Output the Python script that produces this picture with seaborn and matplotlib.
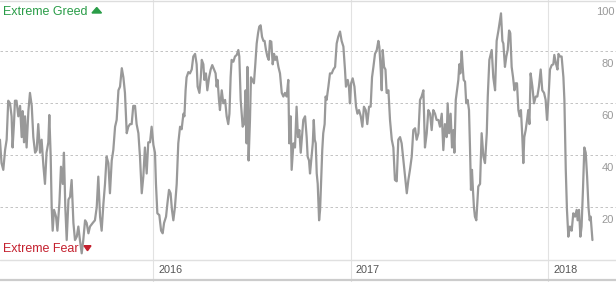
import matplotlib
matplotlib.use("Agg")
import matplotlib.pyplot as plt
import matplotlib.patches as mpatches
import matplotlib.transforms as mtransforms
import seaborn as sns
import pandas as pd

# Fear & Greed index (x = decimal year)
years = [
    2015.225, 2015.233, 2015.242, 2015.251, 2015.259, 2015.267, 2015.276, 2015.284, 2015.289, 2015.296,
    2015.301, 2015.309, 2015.318, 2015.327, 2015.335, 2015.340, 2015.347, 2015.352, 2015.360, 2015.369,
    2015.377, 2015.386, 2015.394, 2015.403, 2015.411, 2015.419, 2015.428, 2015.436, 2015.445, 2015.453,
    2015.461, 2015.470, 2015.475, 2015.482, 2015.487, 2015.492, 2015.499, 2015.509, 2015.516, 2015.526,
    2015.534, 2015.543, 2015.549, 2015.556, 2015.563, 2015.572, 2015.580, 2015.588, 2015.597, 2015.605,
    2015.614, 2015.622, 2015.630, 2015.639, 2015.647, 2015.656, 2015.664, 2015.673, 2015.681, 2015.695,
    2015.706, 2015.715, 2015.723, 2015.732, 2015.740, 2015.749, 2015.757, 2015.765, 2015.774, 2015.782,
    2015.791, 2015.799, 2015.808, 2015.816, 2015.825, 2015.833, 2015.842, 2015.850, 2015.858, 2015.867,
    2015.875, 2015.884, 2015.892, 2015.900, 2015.909, 2015.917, 2015.926, 2015.934, 2015.943, 2015.951,
    2015.959, 2015.968, 2015.976, 2015.985, 2015.993, 2016.002, 2016.010, 2016.015, 2016.022, 2016.032,
    2016.041, 2016.049, 2016.056, 2016.066, 2016.073, 2016.081, 2016.089, 2016.096, 2016.103, 2016.111,
    2016.120, 2016.128, 2016.137, 2016.145, 2016.154, 2016.159, 2016.165, 2016.170, 2016.179, 2016.187,
    2016.196, 2016.204, 2016.213, 2016.221, 2016.226, 2016.235, 2016.242, 2016.247, 2016.255, 2016.260,
    2016.268, 2016.275, 2016.284, 2016.292, 2016.300, 2016.309, 2016.317, 2016.322, 2016.327, 2016.334,
    2016.339, 2016.348, 2016.356, 2016.365, 2016.373, 2016.381, 2016.387, 2016.393, 2016.398, 2016.407,
    2016.415, 2016.424, 2016.432, 2016.437, 2016.444, 2016.454, 2016.461, 2016.469, 2016.474, 2016.478,
    2016.484, 2016.491, 2016.496, 2016.503, 2016.511, 2016.518, 2016.525, 2016.532, 2016.538, 2016.545,
    2016.552, 2016.559, 2016.565, 2016.572, 2016.579, 2016.586, 2016.592, 2016.599, 2016.606, 2016.613,
    2016.619, 2016.626, 2016.635, 2016.643, 2016.652, 2016.660, 2016.668, 2016.677, 2016.685, 2016.690,
    2016.697, 2016.702, 2016.711, 2016.719, 2016.727, 2016.734, 2016.741, 2016.748, 2016.754, 2016.761,
    2016.770, 2016.778, 2016.783, 2016.790, 2016.795, 2016.803, 2016.809, 2016.814, 2016.819, 2016.824,
    2016.829, 2016.834, 2016.841, 2016.846, 2016.851, 2016.857, 2016.862, 2016.869, 2016.874, 2016.879,
    2016.888, 2016.896, 2016.905, 2016.913, 2016.922, 2016.930, 2016.938, 2016.947, 2016.955, 2016.964,
    2016.972, 2016.977, 2016.986, 2016.992, 2016.997, 2017.003, 2017.011, 2017.020, 2017.028, 2017.035,
    2017.043, 2017.052, 2017.060, 2017.068, 2017.077, 2017.085, 2017.094, 2017.102, 2017.109, 2017.116,
    2017.124, 2017.133, 2017.141, 2017.146, 2017.153, 2017.158, 2017.163, 2017.170, 2017.177, 2017.183,
    2017.192, 2017.200, 2017.209, 2017.217, 2017.225, 2017.234, 2017.242, 2017.251, 2017.259, 2017.268,
    2017.276, 2017.285, 2017.293, 2017.301, 2017.310, 2017.318, 2017.327, 2017.335, 2017.344, 2017.352,
    2017.360, 2017.369, 2017.377, 2017.386, 2017.394, 2017.403, 2017.411, 2017.419, 2017.428, 2017.436,
    2017.445, 2017.453, 2017.462, 2017.470, 2017.478, 2017.487, 2017.492, 2017.499, 2017.507, 2017.514,
    2017.521, 2017.526, 2017.533, 2017.539, 2017.546, 2017.551, 2017.556, 2017.563, 2017.568, 2017.573,
    2017.580, 2017.586, 2017.593, 2017.600, 2017.605, 2017.610, 2017.615, 2017.620, 2017.625, 2017.630,
    2017.637, 2017.642, 2017.647, 2017.656, 2017.664, 2017.673, 2017.681, 2017.690, 2017.695, 2017.703,
    2017.710, 2017.715, 2017.723, 2017.732, 2017.740, 2017.749, 2017.757, 2017.762, 2017.769, 2017.774,
    2017.782, 2017.789, 2017.796, 2017.803, 2017.809, 2017.816, 2017.823, 2017.830, 2017.836, 2017.843,
    2017.850, 2017.856, 2017.863, 2017.870, 2017.875, 2017.880, 2017.887, 2017.894, 2017.900, 2017.906,
    2017.912, 2017.921, 2017.929, 2017.938, 2017.946, 2017.954, 2017.963, 2017.971, 2017.980, 2017.988,
    2017.995, 2018.002, 2018.010, 2018.019, 2018.027, 2018.032, 2018.041, 2018.048, 2018.053, 2018.061,
    2018.069, 2018.078, 2018.083, 2018.090, 2018.096, 2018.103, 2018.111, 2018.120, 2018.128, 2018.137,
    2018.145, 2018.150, 2018.157, 2018.164, 2018.170, 2018.177, 2018.184, 2018.191, 2018.198, 2018.205,
    2018.211, 2018.216, 2018.225,
]
index_values = [
    46, 37, 34.4, 42, 46, 61, 60, 55, 43, 52,
    61, 61, 55, 59, 47, 57, 45, 55, 43, 57,
    64, 59, 47, 41, 42, 52, 41, 46, 36, 29,
    41, 45, 55.5, 39.5, 20, 11, 19, 16.4, 11, 21.5,
    35.6, 29, 41, 20, 7.4, 23, 24, 30.5, 14, 7.4,
    8.7, 12.6, 7.4, 2.3, 7.4, 15, 14, 10, 12.6, 14,
    15, 20, 31.8, 16.4, 11, 21.5, 29, 39.5, 37, 25.4,
    38, 42, 51, 53.6, 65, 66.4, 73.5, 70, 64, 48.5,
    51, 52, 52, 59, 59, 52, 48.5, 39.5, 25.4, 31.8,
    43, 33, 45, 45, 51, 44, 41, 29, 17.7, 17,
    11, 10, 14, 16.4, 21.5, 26.7, 25.4, 19, 15, 20,
    29, 44.6, 51, 50, 56, 55, 65, 70, 72, 71.5,
    73, 78, 79, 75, 66.4, 64, 70, 76.7, 75, 69,
    71.5, 65, 70, 73, 74.7, 73, 71.5, 66.4, 69, 61.3,
    57.4, 65, 60, 61.3, 55, 52, 56, 70, 76.7, 76,
    78, 78.6, 80.5, 78, 61.3, 51, 52, 65, 44.6, 74,
    38, 53.6, 70, 69, 67.7, 75, 83, 87, 89.5, 90,
    85.6, 84, 84, 80.5, 78, 76.7, 84, 83.7, 75, 79,
    76.7, 78, 74, 71.5, 64, 62.6, 64, 62.6, 69, 44.6,
    55, 34.4, 44.6, 43, 58.7, 47, 49.7, 41, 47, 53.6,
    55, 47, 39.5, 38, 33, 39.5, 44.6, 53.6, 46, 44.6,
    33, 29, 15, 19, 29, 42, 48.5, 52, 62.6, 61.3,
    66.4, 71.5, 71.5, 73, 74, 83, 85.6, 87.6, 84, 81.8,
    73, 66.4, 69, 66.4, 60, 67.7, 69.6, 66.4, 58.7, 56,
    57.4, 55, 51, 58.7, 57.4, 52, 58.7, 58.7, 70, 74,
    79, 80.5, 84, 81.8, 73, 65, 80.5, 74, 73, 64,
    65, 53.6, 46, 43, 30.5, 30, 46, 47, 44.6, 38,
    31.8, 25.4, 30.5, 34.4, 39.5, 49.7, 50.4, 46, 48.5, 61.3,
    62.6, 65, 43, 48.5, 57.4, 56, 49.7, 57.4, 56, 53.6,
    53.6, 51, 56, 42, 52, 47, 60, 48.5, 56, 43,
    49.7, 41, 61.3, 65, 69, 75, 71.5, 80, 74, 69,
    68.3, 60, 61.3, 57.4, 43, 26.7, 34.4, 26.7, 20, 16.4,
    15, 21.5, 28, 29, 48.5, 39.5, 37, 48.5, 62.6, 76.7,
    79, 80.5, 70, 65, 84, 88, 92, 94.6, 84, 83,
    74, 78, 80.5, 88, 87, 74, 70, 65, 67.7, 67.7,
    57.4, 55, 57.4, 47, 37, 47, 49.7, 53.6, 57.4, 52,
    71.5, 66.4, 60, 62.6, 62.6, 66.4, 73, 65, 64, 61.3,
    53.6, 61.3, 73, 74.7, 75, 78.6, 75, 73, 79, 78,
    78, 70, 61.3, 34.4, 19, 8.7, 12.6, 11, 17.7, 16.4,
    19, 15, 19, 8.7, 12.6, 26.7, 43, 41, 31.8, 20,
    15, 16.4, 7.4,
]
year_ticks = [2016, 2017, 2018]
year_labels = ["2016", "2017", "2018"]
y_ticks = [20, 40, 60, 80, 100]
y_labels = ["20", "40", "60", "80", "100"]
greed_label = "Extreme Greed"
fear_label = "Extreme Fear"

df = pd.DataFrame({"year": years, "value": index_values})

sns.set_style("white")
plt.rcParams["font.family"] = ["Liberation Sans", "DejaVu Sans"]

W, H = 616, 282
fig = plt.figure(figsize=(W / 100, H / 100), dpi=100)
ax = fig.add_axes([0, 22.7 / H, 1, 260 / H])
ax.set_xlim(2015.2253, 2018.3443)
ax.set_ylim(0, 100)
for s in ax.spines.values():
    s.set_visible(False)
ax.set_xticks([])
ax.set_yticks([])
ax.patch.set_alpha(0)

# horizontal dashed gridlines
for v in y_ticks[:-1]:
    ax.axhline(v, color="#c4c4c4", lw=0.72, ls=(0, (2.5, 2.5)), zorder=1)

# vertical year lines (extend through label band)
for yr in year_ticks:
    ax.axvline(yr, ymin=-22.7 / 260, ymax=1.01, color="#e2e2e2", lw=0.8,
               clip_on=False, zorder=1)

sns.lineplot(data=df, x="year", y="value", ax=ax, color="#999999",
             lw=1.6, zorder=3, estimator=None)
ax.set_xlabel("")
ax.set_ylabel("")
ax.set_xticks([])
ax.set_yticks([])

# frame lines
fig.add_artist(plt.Line2D([0, 1], [281.5 / H, 281.5 / H], color="#dddddd", lw=1.0))
fig.add_artist(plt.Line2D([0, 1], [22.5 / H, 22.5 / H], color="#e0e0e0", lw=1.0))
fig.add_artist(plt.Line2D([0, 1], [2 / H, 2 / H], color="#cccccc", lw=1.6))

# y tick labels (inside, right, below gridline)
off = mtransforms.offset_copy(ax.transData, fig=fig, x=0, y=-12.5, units="dots")
ytrans = mtransforms.blended_transform_factory(ax.transAxes, off)
for v, lab in zip(y_ticks, y_labels):
    ax.text(0.997, v, lab, transform=ytrans, ha="right", va="center",
            fontsize=8, color="#999999", zorder=5)

# x year labels
xtrans = mtransforms.blended_transform_factory(ax.transData, fig.transFigure)
xoff = mtransforms.offset_copy(xtrans, fig=fig, x=5, y=0, units="dots")
for yr, lab in zip(year_ticks, year_labels):
    ax.text(yr, 12 / H, lab, transform=xoff, ha="left", va="center",
            fontsize=7.8, color="#555555")

# Extreme labels
green = "#2a9d48"
red = "#c4202e"
fig.text(3 / W, (H - 15) / H, greed_label, color=green, fontsize=9, va="baseline", ha="left")
fig.text(3 / W, (H - 252.3) / H, fear_label, color=red, fontsize=9, va="baseline", ha="left")
idt = mtransforms.IdentityTransform()
fig.add_artist(mpatches.Polygon([[92, H - 13], [101.5, H - 13], [96.75, H - 7.5]],
                                closed=True, color=green, transform=idt))
fig.add_artist(mpatches.Polygon([[84, H - 245.7], [91, H - 245.7], [87.5, H - 250.7]],
                                closed=True, color=red, transform=idt, zorder=6))

fig.savefig("out.png", dpi=100)
